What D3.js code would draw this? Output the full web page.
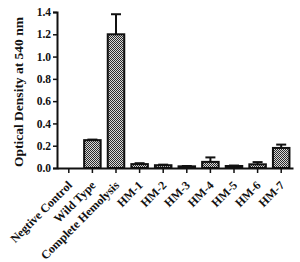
<!DOCTYPE html>
<html lang="en">
<head>
<meta charset="utf-8">
<title>Hemolysis</title>
<script src="https://cdn.jsdelivr.net/npm/d3@7"></script>
<style>
  body { margin: 0; background: #fff; overflow: hidden; }
  text { font-family: "Liberation Serif", "DejaVu Serif", serif; font-weight: bold; }
</style>
</head>
<body>
<div id="chart"></div>
<script>
var categories = ["Negtive Control", "Wild Type", "Complete Hemolysis", "HM-1", "HM-2", "HM-3", "HM-4", "HM-5", "HM-6", "HM-7"];
var values = [0, 0.25, 1.2, 0.035, 0.025, 0.015, 0.055, 0.018, 0.033, 0.18];
var errors = [0, 0.005, 0.18, 0.008, 0.005, 0.003, 0.04, 0.004, 0.02, 0.03];
var yTicks = [0.0, 0.2, 0.4, 0.6, 0.8, 1.0, 1.2, 1.4];

var W = 300, H = 262;
var mLeft = 57, mRight = 293, mTop = 12, mBottom = 168;

var svg = d3.select("#chart").append("svg")
    .attr("width", W).attr("height", H).style("display", "block");

// dotted fill like the original
var pat = svg.append("defs").append("pattern")
    .attr("id", "dots").attr("width", 2).attr("height", 2)
    .attr("patternUnits", "userSpaceOnUse");
pat.append("rect").attr("width", 2).attr("height", 2).attr("fill", "#d8d8d8");
pat.append("rect").attr("width", 1).attr("height", 1).attr("fill", "#2a2a2a");
pat.append("rect").attr("x", 1).attr("y", 1).attr("width", 1).attr("height", 1).attr("fill", "#2a2a2a");

var x = d3.scaleBand().domain(categories).range([mLeft, mRight]).paddingInner(0.3).paddingOuter(0.15);
var y = d3.scaleLinear().domain([0, 1.4]).range([mBottom, mTop]);

// error bars (upper only)
var eb = svg.append("g");
categories.forEach(function(c, i) {
    if (errors[i] <= 0) return;
    var cx = x(c) + x.bandwidth() / 2;
    eb.append("line").attr("x1", cx).attr("x2", cx)
        .attr("y1", y(values[i])).attr("y2", y(values[i] + errors[i]))
        .attr("stroke", "#111").attr("stroke-width", 2);
    eb.append("line").attr("x1", cx - 5).attr("x2", cx + 5)
        .attr("y1", y(values[i] + errors[i])).attr("y2", y(values[i] + errors[i]))
        .attr("stroke", "#111").attr("stroke-width", 2);
});

// bars
svg.append("g").selectAll("rect").data(categories).join("rect")
    .attr("x", function(d) { return x(d); })
    .attr("y", function(d, i) { return y(values[i]); })
    .attr("width", x.bandwidth())
    .attr("height", function(d, i) { return mBottom - y(values[i]); })
    .attr("fill", "url(#dots)")
    .attr("stroke", "#111").attr("stroke-width", 2)
    .attr("display", function(d, i) { return values[i] > 0 ? null : "none"; });

// y axis
var ya = svg.append("g").attr("transform", "translate(" + mLeft + ",0)")
    .call(d3.axisLeft(y).tickValues(yTicks).tickFormat(d3.format(".1f")).tickSize(4).tickPadding(2));
ya.select(".domain").attr("stroke", "#111").attr("stroke-width", 2);
ya.selectAll(".tick line").attr("stroke", "#111").attr("stroke-width", 1.5);
ya.selectAll("text").attr("font-size", 11.5).attr("fill", "#111");

// x axis
var xa = svg.append("g").attr("transform", "translate(0," + mBottom + ")")
    .call(d3.axisBottom(x).tickSize(5).tickSizeOuter(0));
xa.select(".domain").attr("stroke", "#111").attr("stroke-width", 2);
xa.selectAll(".tick line").attr("stroke", "#111").attr("stroke-width", 1.5);
xa.selectAll("text")
    .attr("font-size", 12).attr("fill", "#111")
    .attr("text-anchor", "end")
    .attr("x", 0).attr("y", 0)
    .attr("dy", "0.35em")
    .attr("transform", "translate(1,15) rotate(-45)");

// y title
svg.append("text")
    .attr("transform", "translate(23," + ((mTop + mBottom) / 2 + 2) + ") rotate(-90)")
    .attr("text-anchor", "middle")
    .attr("font-size", 13.5).attr("fill", "#111")
    .text("Optical Density at 540 nm");
</script>
</body>
</html>
